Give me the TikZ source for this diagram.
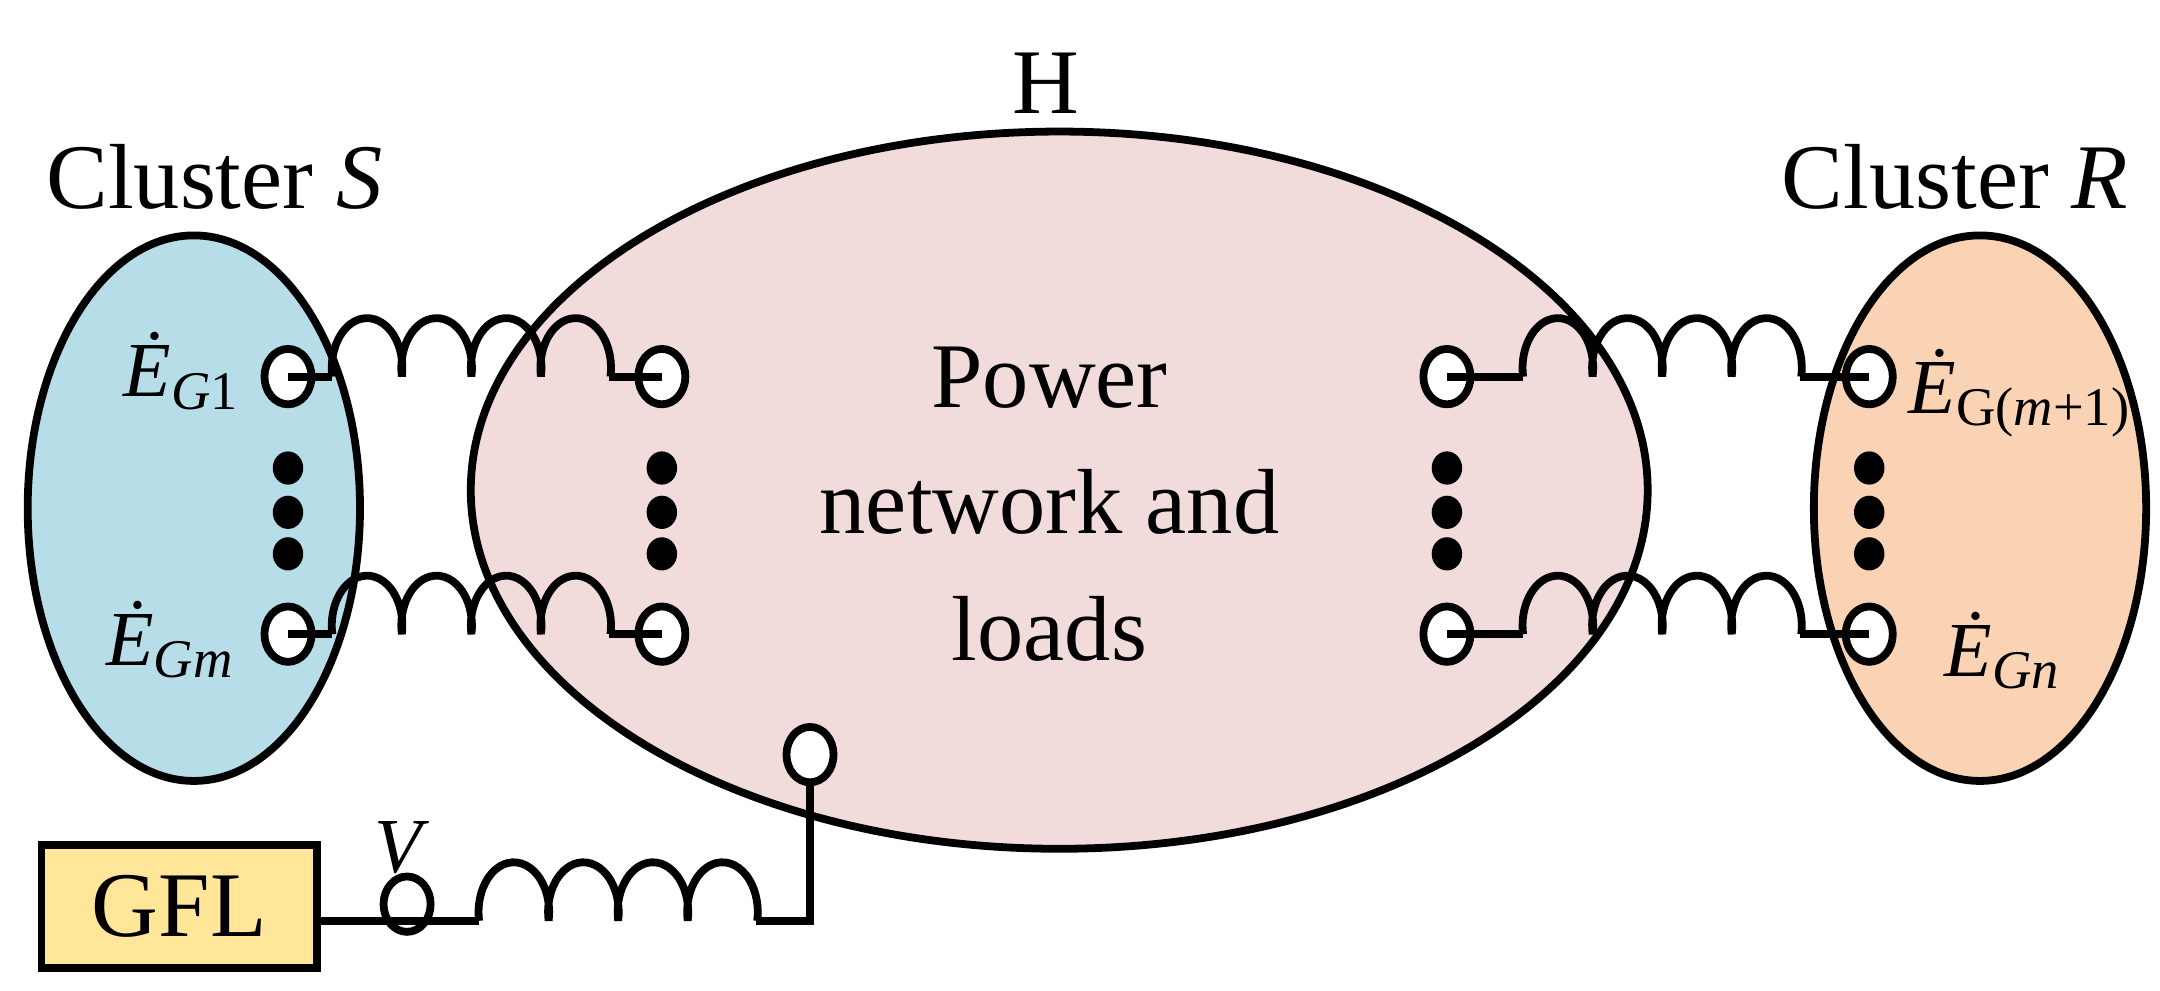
\documentclass[tikz,border=0pt]{standalone}
\usepackage{fontspec}
\setmainfont{Liberation Serif}
\usetikzlibrary{shapes.geometric}
\definecolor{clS}{HTML}{B7DDE8}
\definecolor{clH}{HTML}{F2DCDB}
\definecolor{clR}{HTML}{FAD3B4}
\definecolor{clG}{HTML}{FFE699}
\newcommand\Eg[1]{\textit{\.E}\textsubscript{#1}}
\tikzset{
  wire/.style={line width=1.6pt},
  blob/.style={ellipse, draw, line width=1.6pt, inner sep=0pt},
  term/.style={ellipse, draw, fill=white, line width=1.6pt, minimum width=3.4mm, minimum height=4mm, inner sep=0pt},
  dot/.style={ellipse, fill=black, minimum width=2.2mm, minimum height=2.4mm, inner sep=0pt},
  big/.style={font=\fontsize{19}{22}\selectfont},
  lab/.style={font=\fontsize{16}{19}\selectfont},
  coil/.pic={\draw[wire] (0,0)
     arc[start angle=190,end angle=-10,x radius=2.55mm,y radius=3.6mm]
     arc[start angle=190,end angle=-10,x radius=2.55mm,y radius=3.6mm]
     arc[start angle=190,end angle=-10,x radius=2.55mm,y radius=3.6mm]
     arc[start angle=190,end angle=-10,x radius=2.55mm,y radius=3.6mm];}
}
\begin{document}
\begin{tikzpicture}[x=0.1mm,y=-0.1mm]
\useasboundingbox (0,0) rectangle (1560,715);
% clusters
\node[blob, fill=clS, minimum width=24mm, minimum height=39.4mm] (S) at (140,367) {};
\node[blob, fill=clR, minimum width=24mm, minimum height=39.4mm] (R) at (1430,367) {};
\node[blob, fill=clH, minimum width=85mm, minimum height=51.8mm] (H) at (765,354) {};
\node[big] (tS) at (155,128) {Cluster \textit{S}};
\node[big] (tR) at (1412,128) {Cluster \textit{R}};
\node[big] (tH) at (755,60) {H};
\node[big, align=center] (tP) at (758,364) {Power\\[4pt]network and\\[4pt]loads};
% terminals
\node[term] (s1) at (208,272) {};
\node[term] (sm) at (208,458) {};
\node[term] (h1) at (478,272) {};
\node[term] (hm) at (478,458) {};
\node[term] (h2) at (1045,272) {};
\node[term] (hn) at (1045,458) {};
\node[term] (r1) at (1350,272) {};
\node[term] (rn) at (1350,458) {};
\node[term] (hg) at (585,545) {};
\node[term] (v)  at (294,653) {};
% dots
\foreach \x/\n in {208/a,478/b,1045/c,1350/d}{
  \node[dot] (\n1) at (\x,338) {};
  \node[dot] (\n2) at (\x,370) {};
  \node[dot] (\n3) at (\x,400) {};
}
% labels
\node[lab, anchor=east] (ls1) at (186,268) {\Eg{\textit{G}1}};
\node[lab, anchor=east] (lsm) at (182,462) {\Eg{\textit{Gm}}};
\node[lab, anchor=west] (lr1) at (1366,284) {\Eg{G(\textit{m}+1)}};
\node[lab, anchor=west] (lrn) at (1392,470) {\Eg{\textit{Gn}}};
\node[lab] (lv) at (290,612) {\textit{V}};
% GFL
\node[draw, fill=clG, line width=1.6pt, minimum width=19.9mm, minimum height=8.9mm, big] (gfl) at (129.5,654.5) {GFL};
% inductors
\foreach \a/\b/\y/\xs in {s1/h1/272/240, sm/hm/458/240, h2/r1/272/1100, hn/rn/458/1100}{
  \coordinate (c0) at (\xs,\y);
  \coordinate (c1) at (\xs+200,\y);
  \draw[wire] (\a.center) -- (c0);
  \pic at (c0) {coil};
  \draw[wire] (c1) -- (\b.center);
}
\coordinate (gl) at (gfl.east |- 0,665);
\coordinate (g0) at (346,665);
\coordinate (g1) at (546,665);
\coordinate (g2) at (585,665);
\draw[wire] (gl) -- (g0);
\pic at (g0) {coil};
\draw[wire] (g1) -- (g2) -- (hg.south);
\end{tikzpicture}
\end{document}
